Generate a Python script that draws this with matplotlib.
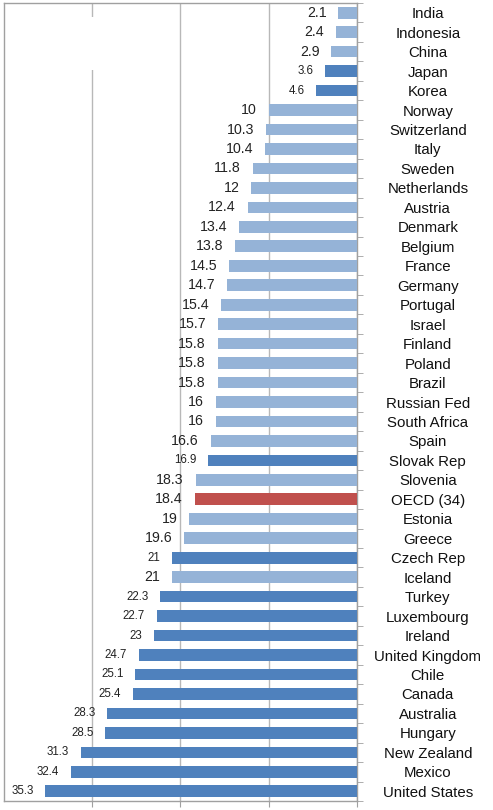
import matplotlib
matplotlib.use("Agg")
import matplotlib.pyplot as plt
from matplotlib.patches import Rectangle
import numpy as np

plt.rcParams['font.family'] = ['Liberation Sans', 'DejaVu Sans']

countries = ["India", "Indonesia", "China", "Japan", "Korea", "Norway", "Switzerland",
             "Italy", "Sweden", "Netherlands", "Austria", "Denmark", "Belgium", "France",
             "Germany", "Portugal", "Israel", "Finland", "Poland", "Brazil", "Russian Fed",
             "South Africa", "Spain", "Slovak Rep", "Slovenia", "OECD (34)", "Estonia",
             "Greece", "Czech Rep", "Iceland", "Turkey", "Luxembourg", "Ireland",
             "United Kingdom", "Chile", "Canada", "Australia", "Hungary", "New Zealand",
             "Mexico", "United States"]
values = [2.1, 2.4, 2.9, 3.6, 4.6, 10, 10.3, 10.4, 11.8, 12, 12.4, 13.4, 13.8, 14.5,
          14.7, 15.4, 15.7, 15.8, 15.8, 15.8, 16, 16, 16.6, 16.9, 18.3, 18.4, 19, 19.6,
          21, 21, 22.3, 22.7, 23, 24.7, 25.1, 25.4, 28.3, 28.5, 31.3, 32.4, 35.3]
dark = ["Japan", "Korea", "Slovak Rep", "Czech Rep", "Turkey", "Luxembourg", "Ireland",
        "United Kingdom", "Chile", "Canada", "Australia", "Hungary", "New Zealand",
        "Mexico", "United States"]
highlight = "OECD (34)"

LIGHT = "#95B3D7"
DARK = "#4F81BD"
RED = "#C0504D"

W, H = 493, 810
fig = plt.figure(figsize=(W / 100, H / 100), dpi=100)
ax = fig.add_axes([4 / W, 1 - 801 / H, (357 - 4) / W, (801 - 3) / H])

y = np.arange(len(countries))
colors = [RED if c == highlight else (DARK if c in dark else LIGHT) for c in countries]
ax.barh(y, values, height=0.6, color=colors, zorder=3)

for yi, v, c in zip(y, values, countries):
    small = c in dark
    ax.annotate(f"{v:g}", (v, yi), xytext=(-8.5, 0), textcoords="offset points",
                ha="right", va="center", fontsize=8.3 if small else 10.2,
                color="#222222", zorder=4)

ax.set_xlim(40, 0)
ax.set_ylim(len(countries) - 0.5, -0.5)
ax.set_xticks([30, 20, 10, 0])
ax.set_xticklabels([])
ax.tick_params(axis="x", length=4, color="#a0a0a0")
ax.grid(axis="x", color="#b8b8b8", linewidth=1, zorder=0)

ax.yaxis.tick_right()
ax.set_yticks(y)
ax.set_yticklabels(countries, fontsize=10.8, ha="center", color="#111111")
ax.tick_params(axis="y", which="major", length=0, pad=51)
ax.set_yticks(np.arange(-0.5, len(countries), 1), minor=True)
ax.tick_params(axis="y", which="minor", length=4, color="#a0a0a0", right=True, left=False)

for s in ax.spines.values():
    s.set_color("#a0a0a0")
    s.set_linewidth(1)

# blank box at top-left (erased legend)
ax.add_patch(Rectangle((15 / W, 1 - 70 / H), (177 - 15) / W, (70 - 17) / H,
                       transform=fig.transFigure, facecolor="white",
                       edgecolor="none", zorder=5))

fig.savefig("out.png", dpi=100)
